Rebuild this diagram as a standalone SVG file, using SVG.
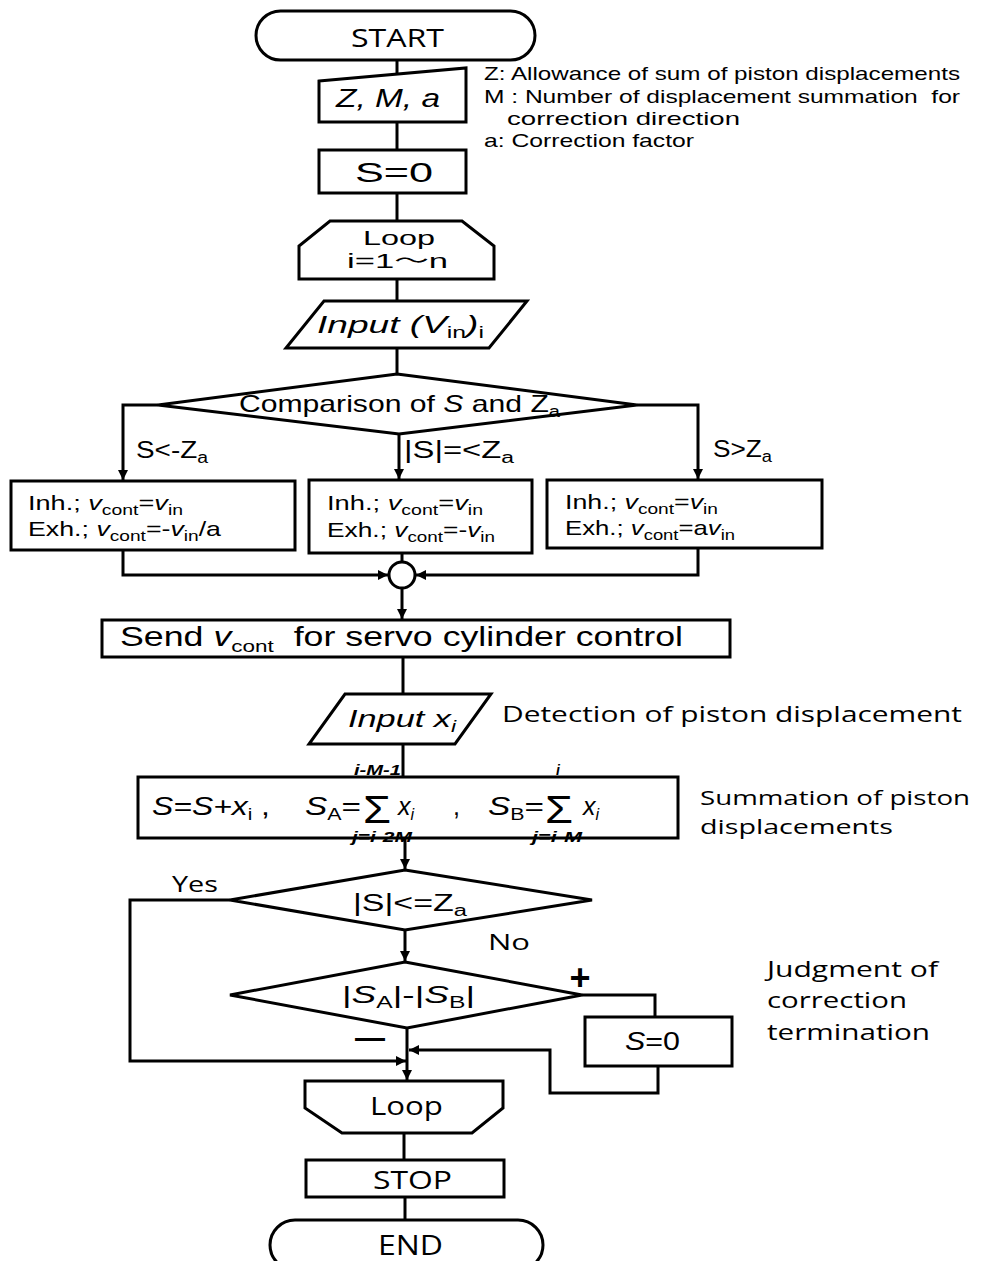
<svg xmlns="http://www.w3.org/2000/svg" width="987" height="1261" viewBox="0 0 987 1261">
<style>
.n{fill:#fff;stroke:#000;stroke-width:3}
.c{fill:none;stroke:#000;stroke-width:3}
text{font-family:"Liberation Sans",Arial,sans-serif;fill:#000}
.o{font-family:"Open Sans","Noto Sans CJK JP",sans-serif}
.i{font-style:italic}
.lim{font-size:14px;font-weight:bold;font-style:italic}
.sig{font-size:38px}
</style>
<defs>
<marker id="ah" viewBox="0 0 10 10" refX="10" refY="5" markerWidth="10" markerHeight="10" markerUnits="userSpaceOnUse" orient="auto"><path d="M0,0 L10,5 L0,10 z" fill="#000"/></marker>
</defs>
<rect width="987" height="1261" fill="#fff"/>

<g id="connectors">
<path class="c" d="M397,60 V74"/>
<path class="c" d="M397,122 V150"/>
<path class="c" d="M397,193 V221"/>
<path class="c" d="M397,279 V301"/>
<path class="c" d="M397,348 V374"/>
<path class="c" d="M158,405 H123 V480" marker-end="url(#ah)"/>
<path class="c" d="M399,434 V479" marker-end="url(#ah)"/>
<path class="c" d="M637,405 H698 V479" marker-end="url(#ah)"/>
<path class="c" d="M123,550 V575 H388" marker-end="url(#ah)"/>
<path class="c" d="M698,548 V575 H416" marker-end="url(#ah)"/>
<path class="c" d="M402,553 V562"/>
<path class="c" d="M402,588 V619" marker-end="url(#ah)"/>
<path class="c" d="M403,657 V694"/>
<path class="c" d="M403,744 V777"/>
<path class="c" d="M405,838 V869" marker-end="url(#ah)"/>
<path class="c" d="M405,930 V961" marker-end="url(#ah)"/>
<path class="c" d="M230,900 H130 V1061 H406" marker-end="url(#ah)"/>
<path class="c" d="M407,1028 V1080" marker-end="url(#ah)"/>
<path class="c" d="M582,995 H655 V1017"/>
<path class="c" d="M658,1066 V1093 H550 V1050 H409" marker-end="url(#ah)"/>
<path class="c" d="M404,1133 V1160"/>
<path class="c" d="M405,1197 V1220"/>
</g>

<g id="start">
<rect class="n" x="256" y="11" width="279" height="49" rx="24.5"/>
<text class="o" x="351" y="47" font-size="25" textLength="93" lengthAdjust="spacingAndGlyphs">START</text>
</g>

<g id="params">
<polygon class="n" points="319,81 466,68 466,122 319,122"/>
<text class="i" x="336" y="107" font-size="25" textLength="104" lengthAdjust="spacingAndGlyphs">Z, M, a</text>
</g>

<g id="notes">
<text x="484" y="80" font-size="19" textLength="476" lengthAdjust="spacingAndGlyphs">Z: Allowance of sum of piston displacements</text>
<text x="484" y="103" font-size="19" textLength="476" lengthAdjust="spacingAndGlyphs">M : Number of displacement summation&#160; for</text>
<text x="507" y="125" font-size="19" textLength="233" lengthAdjust="spacingAndGlyphs">correction direction</text>
<text x="484" y="147" font-size="19" textLength="210" lengthAdjust="spacingAndGlyphs">a: Correction factor</text>
</g>

<g id="init">
<rect class="n" x="319" y="150" width="147" height="43"/>
<text x="355" y="182" font-size="27" textLength="78" lengthAdjust="spacingAndGlyphs">S=0</text>
</g>

<g id="loop-start">
<polygon class="n" points="330,221 462,221 494,246 494,279 299,279 299,246"/>
<text x="363" y="245" font-size="20" textLength="72" lengthAdjust="spacingAndGlyphs">Loop</text>
<text x="347" y="268" font-size="20" textLength="101" lengthAdjust="spacingAndGlyphs"><tspan>i=1</tspan><tspan font-family="Noto Sans CJK JP, sans-serif">〜</tspan><tspan>n</tspan></text>
</g>

<g id="input-vin">
<polygon class="n" points="324,301 527,301 489,348 286,348"/>
<text x="317" y="333" font-size="24" textLength="167" lengthAdjust="spacingAndGlyphs"><tspan class="i">Input (V</tspan><tspan font-size="16" dy="5">in</tspan><tspan class="i" dy="-5">)</tspan><tspan font-size="16" dy="5">i</tspan></text>
</g>

<g id="compare">
<polygon class="n" points="397,374 637,405 399,434 158,405"/>
<text x="239" y="412" font-size="24" textLength="321" lengthAdjust="spacingAndGlyphs">Comparison of <tspan class="i">S</tspan> and Z<tspan font-size="16" dy="5">a</tspan></text>
</g>

<g id="labels">
<text x="136" y="458" font-size="23" textLength="72" lengthAdjust="spacingAndGlyphs">S&lt;-Z<tspan font-size="16" dy="5">a</tspan></text>
<text x="404" y="458" font-size="23" textLength="110" lengthAdjust="spacingAndGlyphs">|S|=&lt;Z<tspan font-size="16" dy="5">a</tspan></text>
<text x="713" y="457" font-size="23" textLength="59" lengthAdjust="spacingAndGlyphs">S&gt;Z<tspan font-size="16" dy="5">a</tspan></text>
</g>

<g id="box-left">
<rect class="n" x="11" y="481" width="284" height="69"/>
<text x="28" y="510" font-size="21" textLength="155" lengthAdjust="spacingAndGlyphs">Inh.; <tspan class="i">v</tspan><tspan font-size="15" dy="5">cont</tspan><tspan dy="-5">=</tspan><tspan class="i">v</tspan><tspan font-size="15" dy="5">in</tspan></text>
<text x="28" y="536" font-size="21" textLength="193" lengthAdjust="spacingAndGlyphs">Exh.; <tspan class="i">v</tspan><tspan font-size="15" dy="5">cont</tspan><tspan dy="-5">=-</tspan><tspan class="i">v</tspan><tspan font-size="15" dy="5">in</tspan><tspan dy="-5">/a</tspan></text>
</g>

<g id="box-mid">
<rect class="n" x="309" y="480" width="223" height="73"/>
<text x="327" y="510" font-size="21" textLength="156" lengthAdjust="spacingAndGlyphs">Inh.; <tspan class="i">v</tspan><tspan font-size="15" dy="5">cont</tspan><tspan dy="-5">=</tspan><tspan class="i">v</tspan><tspan font-size="15" dy="5">in</tspan></text>
<text x="327" y="537" font-size="21" textLength="168" lengthAdjust="spacingAndGlyphs">Exh.; <tspan class="i">v</tspan><tspan font-size="15" dy="5">cont</tspan><tspan dy="-5">=-</tspan><tspan class="i">v</tspan><tspan font-size="15" dy="5">in</tspan></text>
</g>

<g id="box-right">
<rect class="n" x="547" y="480" width="275" height="68"/>
<text x="565" y="509" font-size="21" textLength="153" lengthAdjust="spacingAndGlyphs">Inh.; <tspan class="i">v</tspan><tspan font-size="15" dy="5">cont</tspan><tspan dy="-5">=</tspan><tspan class="i">v</tspan><tspan font-size="15" dy="5">in</tspan></text>
<text x="565" y="535" font-size="21" textLength="170" lengthAdjust="spacingAndGlyphs">Exh.; <tspan class="i">v</tspan><tspan font-size="15" dy="5">cont</tspan><tspan dy="-5">=a</tspan><tspan class="i">v</tspan><tspan font-size="15" dy="5">in</tspan></text>
</g>

<g id="merge">
<circle class="n" cx="402" cy="575" r="13"/>
</g>

<g id="send">
<rect class="n" x="102" y="620" width="628" height="37"/>
<text x="120" y="646" font-size="27" textLength="563" lengthAdjust="spacingAndGlyphs">Send <tspan class="i">v</tspan><tspan font-size="17" dy="6">cont</tspan><tspan dy="-6">&#160; for servo cylinder control</tspan></text>
</g>

<g id="input-x">
<polygon class="n" points="345,694 491,694 455,744 309,744"/>
<text x="348" y="727" font-size="24" textLength="108" lengthAdjust="spacingAndGlyphs"><tspan class="i">Input x</tspan><tspan class="i" font-size="16" dy="5">i</tspan></text>
<text class="o" x="502" y="722" font-size="21" textLength="460" lengthAdjust="spacingAndGlyphs">Detection of piston displacement</text>
</g>

<g id="sum">
<rect class="n" x="138" y="777" width="540" height="61"/>
<text x="152" y="815" font-size="25" textLength="118" lengthAdjust="spacingAndGlyphs"><tspan class="i">S=S+x</tspan><tspan font-size="16" dy="5">i</tspan><tspan dy="-5"> ,</tspan></text>
<text x="305" y="815" font-size="25" textLength="56" lengthAdjust="spacingAndGlyphs"><tspan class="i">S</tspan><tspan font-size="16" dy="5">A</tspan><tspan dy="-5">=</tspan></text>
<text class="sig" x="363" y="823" textLength="28" lengthAdjust="spacingAndGlyphs">Σ</text>
<text class="lim" x="354" y="775" textLength="47" lengthAdjust="spacingAndGlyphs">i-M-1</text>
<text class="lim" x="352" y="842" textLength="60" lengthAdjust="spacingAndGlyphs">j=i-2M</text>
<text x="398" y="815" font-size="25"><tspan class="i">x</tspan><tspan class="i" font-size="16" dy="5">i</tspan></text>
<text x="453" y="815" font-size="25">,</text>
<text x="488" y="815" font-size="25" textLength="56" lengthAdjust="spacingAndGlyphs"><tspan class="i">S</tspan><tspan font-size="16" dy="5">B</tspan><tspan dy="-5">=</tspan></text>
<text class="sig" x="545" y="823" textLength="28" lengthAdjust="spacingAndGlyphs">Σ</text>
<text class="lim" x="556" y="775">i</text>
<text class="lim" x="532" y="842" textLength="50" lengthAdjust="spacingAndGlyphs">j=i-M</text>
<text x="583" y="815" font-size="25"><tspan class="i">x</tspan><tspan class="i" font-size="16" dy="5">i</tspan></text>
<text class="o" x="700" y="805" font-size="20" textLength="270" lengthAdjust="spacingAndGlyphs">Summation of piston</text>
<text class="o" x="700" y="834" font-size="20" textLength="193" lengthAdjust="spacingAndGlyphs">displacements</text>
</g>

<g id="check-s">
<polygon class="n" points="405,870 592,900 405,930 230,900"/>
<text x="353" y="911" font-size="23" textLength="114" lengthAdjust="spacingAndGlyphs">|S|&lt;=Z<tspan font-size="16" dy="5">a</tspan></text>
<text class="o" x="172" y="892" font-size="21" textLength="46" lengthAdjust="spacingAndGlyphs">Yes</text>
<text class="o" x="488" y="950" font-size="21" textLength="42" lengthAdjust="spacingAndGlyphs">No</text>
</g>

<g id="check-sab">
<polygon class="n" points="405,962 582,995 407,1028 230,995"/>
<text x="342" y="1003" font-size="24" textLength="133" lengthAdjust="spacingAndGlyphs">|<tspan class="i">S</tspan><tspan font-size="16" dy="5">A</tspan><tspan dy="-5">|-|</tspan><tspan class="i">S</tspan><tspan font-size="16" dy="5">B</tspan><tspan dy="-5">|</tspan></text>
<text x="580" y="990" font-size="36" font-weight="bold" text-anchor="middle">+</text>
<text x="355" y="1048" font-size="30" font-weight="bold" textLength="30" lengthAdjust="spacingAndGlyphs">—</text>
</g>

<g id="reset">
<rect class="n" x="585" y="1017" width="147" height="49"/>
<text x="625" y="1050" font-size="25" textLength="55" lengthAdjust="spacingAndGlyphs"><tspan class="i">S</tspan>=0</text>
<text class="o" x="767" y="977" font-size="21" textLength="171" lengthAdjust="spacingAndGlyphs">Judgment of</text>
<text class="o" x="767" y="1008" font-size="21" textLength="140" lengthAdjust="spacingAndGlyphs">correction</text>
<text class="o" x="767" y="1040" font-size="21" textLength="163" lengthAdjust="spacingAndGlyphs">termination</text>
</g>

<g id="loop-end">
<polygon class="n" points="305,1081 503,1081 503,1108 472,1133 342,1133 305,1108"/>
<text class="o" x="370" y="1115" font-size="25" textLength="73" lengthAdjust="spacingAndGlyphs">Loop</text>
</g>

<g id="stop">
<rect class="n" x="306" y="1160" width="198" height="37"/>
<text class="o" x="373" y="1189" font-size="26" textLength="79" lengthAdjust="spacingAndGlyphs">STOP</text>
</g>

<g id="end">
<rect class="n" x="270" y="1220" width="273" height="50" rx="25"/>
<text class="o" x="378" y="1255" font-size="27" textLength="65" lengthAdjust="spacingAndGlyphs">END</text>
</g>
</svg>
